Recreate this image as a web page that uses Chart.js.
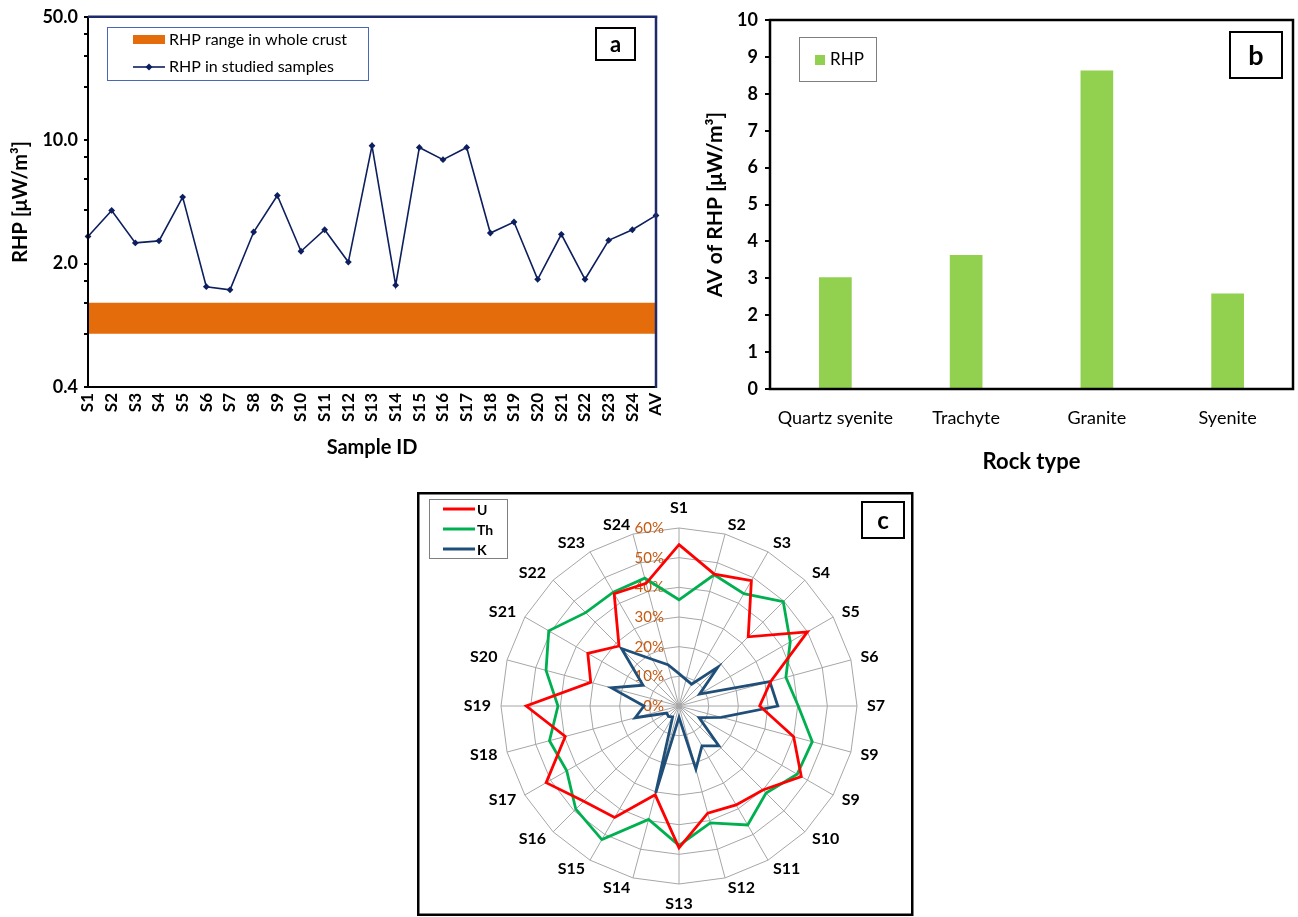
<!DOCTYPE html>
<html>
<head>
<meta charset="utf-8">
<title>Radiogenic heat production</title>
<script src="https://cdn.jsdelivr.net/npm/chart.js@4.4.1/dist/chart.umd.min.js"></script>
<style>
  html, body { margin: 0; padding: 0; background: #fff; }
  body { width: 1298px; height: 917px; position: relative; overflow: hidden; }
  canvas { position: absolute; display: block; }
  #chartA { left: 0; top: 0; }
  #chartB { left: 690px; top: 0; }
  #chartC { left: 417px; top: 492px; }
</style>
</head>
<body>
<canvas id="chartA" width="690" height="460"></canvas>
<canvas id="chartB" width="608" height="480"></canvas>
<canvas id="chartC" width="497" height="425"></canvas>
<script>
// ---------- data: (a) RHP per sample, log scale ----------
const sampleIds = ['S1','S2','S3','S4','S5','S6','S7','S8','S9','S10','S11','S12','S13',
                   'S14','S15','S16','S17','S18','S19','S20','S21','S22','S23','S24','AV'];
const rhpStudied = [2.85, 4.0, 2.62, 2.69, 4.76, 1.48, 1.42, 3.02, 4.86, 2.35, 3.11, 2.04, 9.3,
                    1.51, 9.1, 7.76, 9.1, 2.98, 3.44, 1.63, 2.93, 1.63, 2.71, 3.11, 3.75];
const crustRange = [0.8, 1.2];
const logTicksA = [0.4, 0.8, 1.2, 1.6, 2, 4, 6, 8, 10, 20, 30, 40, 50];
const labelledTicksA = [0.4, 2, 10, 50];

// ---------- data: (b) average RHP by rock type ----------
const rockTypes = ['Quartz syenite', 'Trachyte', 'Granite', 'Syenite'];
const rhpByRock = [3.03, 3.63, 8.63, 2.59];

// ---------- data: (c) U / Th / K contribution (%) ----------
const spokeLabels = ['S1','S2','S3','S4','S5','S6','S7','S9','S9','S10','S11','S12',
                     'S13','S14','S15','S16','S17','S18','S19','S20','S21','S22','S23','S24'];
const uShare  = [54.4, 46.0, 48.8, 33.0, 50.0, 32.0, 27.2, 40.0, 47.6, 40.0, 38.5, 37.4,
                 47.8, 31.0, 43.4, 45.4, 51.7, 39.7, 51.5, 30.8, 35.5, 28.6, 43.7, 42.8];
const thShare = [35.8, 45.8, 43.7, 49.7, 43.3, 37.3, 40.2, 46.5, 46.0, 41.5, 46.3, 40.8,
                 47.0, 39.6, 52.0, 49.2, 43.7, 45.2, 40.8, 46.4, 50.7, 44.5, 44.3, 44.6];
const kShare  = [10.9, 9.2, 8.5, 18.5, 8.0, 31.7, 33.3, 14.7, 7.8, 19.0, 15.5, 22.0,
                 3.8, 30.4, 4.3, 5.0, 4.8, 15.3, 11.8, 23.6, 14.0, 27.4, 18.2, 14.4];
const radarTicks = [0, 10, 20, 30, 40, 50, 60];

// ---------- shared styling ----------
const FONT = "Lato, 'Open Sans', sans-serif";
const NAVY = '#0d1f5e';
const FRAME_NAVY = '#1d2b6c';
const ORANGE = '#e46c0a';
const GREEN_BAR = '#92d050';
Chart.defaults.font.family = FONT;
Chart.defaults.color = '#000';
Chart.defaults.animation = false;
Chart.defaults.plugins.legend.display = false;
Chart.defaults.plugins.tooltip.enabled = false;

function boxedLetter(ctx, x, y, w, h, letter, size) {
  ctx.save();
  ctx.lineWidth = 2;
  ctx.strokeStyle = '#000';
  ctx.strokeRect(x, y, w, h);
  ctx.fillStyle = '#000';
  ctx.font = `bold ${size}px ${FONT}`;
  ctx.textAlign = 'center';
  ctx.textBaseline = 'middle';
  ctx.fillText(letter, x + w / 2, y + h / 2 + 1);
  ctx.restore();
}

function line(ctx, x1, y1, x2, y2, color, width) {
  ctx.beginPath();
  ctx.moveTo(x1, y1);
  ctx.lineTo(x2, y2);
  ctx.strokeStyle = color;
  ctx.lineWidth = width;
  ctx.stroke();
}

// ---------- (a) ----------
const panelAExtras = {
  id: 'panelAExtras',
  afterDraw(chart) {
    const { ctx, chartArea: a } = chart;
    ctx.save();
    // frame: black axes, navy top and right edges
    line(ctx, a.left, a.top, a.left, a.bottom + 1, '#000', 2);
    line(ctx, a.left - 1, a.bottom, a.right, a.bottom, '#000', 2);
    line(ctx, a.left, a.top, a.right + 1.25, a.top, FRAME_NAVY, 2.5);
    line(ctx, a.right, a.top, a.right, a.bottom + 1, FRAME_NAVY, 2.5);

    // legend
    ctx.lineWidth = 1;
    ctx.strokeStyle = '#4a67b5';
    ctx.strokeRect(107.5, 27.5, 261, 53);
    ctx.fillStyle = ORANGE;
    ctx.fillRect(133, 35, 32, 9);
    line(ctx, 133, 67, 165, 67, NAVY, 1.6);
    ctx.fillStyle = NAVY;
    ctx.beginPath();
    ctx.moveTo(149, 63.5); ctx.lineTo(152.5, 67); ctx.lineTo(149, 70.5); ctx.lineTo(145.5, 67);
    ctx.closePath(); ctx.fill();
    ctx.fillStyle = '#000';
    ctx.font = `16px ${FONT}`;
    ctx.textAlign = 'left';
    ctx.textBaseline = 'middle';
    ctx.fillText('RHP range in whole crust', 169, 40);
    ctx.fillText('RHP in studied samples', 169, 67);
    ctx.restore();
    boxedLetter(ctx, 596, 28, 39, 32, 'a', 22);
  }
};

new Chart(document.getElementById('chartA'), {
  type: 'line',
  data: {
    labels: sampleIds,
    datasets: [
      { label: 'RHP in studied samples', data: rhpStudied, borderColor: NAVY, backgroundColor: NAVY,
        borderWidth: 1.6, pointStyle: 'rectRot', pointRadius: 3.4, pointBorderWidth: 0,
        tension: 0, fill: false },
      { label: 'RHP range in whole crust', data: sampleIds.map(() => crustRange[1]),
        borderColor: 'rgba(0,0,0,0)', backgroundColor: ORANGE, borderWidth: 0, pointRadius: 0, fill: '+1' },
      { label: 'crust lower bound', data: sampleIds.map(() => crustRange[0]),
        borderColor: 'rgba(0,0,0,0)', borderWidth: 0, pointRadius: 0, fill: false }
    ]
  },
  options: {
    responsive: false,
    layout: { padding: { left: 0, top: 16, right: 34, bottom: 0 } },
    scales: {
      x: {
        type: 'category', offset: false,
        grid: { display: false, drawTicks: false }, border: { display: false },
        ticks: { autoSkip: false, minRotation: 90, maxRotation: 90, padding: 6,
                 font: { size: 17, weight: 'bold' } },
        title: { display: true, text: 'Sample ID', font: { size: 20, weight: 'bold' },
                 padding: { top: 0, bottom: 0 } },
        afterFit(s) { s.height = 73; }
      },
      y: {
        type: 'logarithmic', min: 0.4, max: 50,
        grid: { drawOnChartArea: false, drawTicks: true, tickLength: 4, color: '#000', lineWidth: 2 },
        border: { display: false },
        afterBuildTicks(s) { s.ticks = logTicksA.map(v => ({ value: v })); },
        ticks: { autoSkip: false, padding: 6, font: { size: 18, weight: 'bold' },
                 callback: v => labelledTicksA.includes(v) ? v.toFixed(1) : '' },
        title: { display: true, text: 'RHP [μW/m³]', font: { size: 20, weight: 'bold' },
                 padding: { top: 9, bottom: 0 } },
        afterFit(s) { s.width = 88; }
      }
    }
  },
  plugins: [panelAExtras]
});

// ---------- (b) ----------
const panelBExtras = {
  id: 'panelBExtras',
  afterDraw(chart) {
    const { ctx, chartArea: a } = chart;
    ctx.save();
    ctx.lineWidth = 2.5;
    ctx.strokeStyle = '#000';
    ctx.strokeRect(a.left, a.top, a.right - a.left, a.bottom - a.top);
    // legend
    ctx.lineWidth = 1;
    ctx.strokeStyle = '#7f7f7f';
    ctx.strokeRect(109.5, 37.5, 77, 44);
    ctx.fillStyle = GREEN_BAR;
    ctx.fillRect(125, 55, 10, 10);
    ctx.fillStyle = '#000';
    ctx.font = `17px ${FONT}`;
    ctx.textAlign = 'left';
    ctx.textBaseline = 'middle';
    ctx.fillText('RHP', 140, 60);
    ctx.restore();
    boxedLetter(ctx, 540, 32, 52, 46, 'b', 27);
  }
};

new Chart(document.getElementById('chartB'), {
  type: 'bar',
  data: {
    labels: rockTypes,
    datasets: [{ label: 'RHP', data: rhpByRock, backgroundColor: GREEN_BAR,
                 barPercentage: 0.5, categoryPercentage: 0.5 }]
  },
  options: {
    responsive: false,
    layout: { padding: { left: 0, top: 20, right: 5, bottom: 0 } },
    scales: {
      x: {
        grid: { display: false, drawTicks: false }, border: { display: false },
        ticks: { padding: 18, font: { size: 18 } },
        title: { display: true, text: 'Rock type', font: { size: 22, weight: 'bold' },
                 padding: { top: 0, bottom: 5 } },
        afterFit(s) { s.height = 91; }
      },
      y: {
        min: 0, max: 10,
        grid: { drawOnChartArea: false, drawTicks: true, tickLength: 5, color: '#000', lineWidth: 2 },
        border: { display: false },
        ticks: { stepSize: 1, padding: 7, font: { size: 18, weight: 'bold' } },
        title: { display: true, text: 'AV of RHP [μW/m³]', font: { size: 21, weight: 'bold' },
                 padding: { top: 13, bottom: 0 } },
        afterFit(s) { s.width = 80; }
      }
    }
  },
  plugins: [panelBExtras]
});

// ---------- (c) ----------
const radarSeries = [
  { name: 'U', data: uShare, color: '#ff0000' },
  { name: 'Th', data: thShare, color: '#00b050' },
  { name: 'K', data: kShare, color: '#1f4e79' }
];

const panelCExtras = {
  id: 'panelCExtras',
  beforeDatasetsDraw(chart) {
    const { ctx } = chart;
    const r = chart.scales.r;
    ctx.save();
    ctx.fillStyle = '#c55a11';
    ctx.font = `15px ${FONT}`;
    ctx.textAlign = 'right';
    ctx.textBaseline = 'middle';
    radarTicks.forEach(v => {
      ctx.fillText(v + '%', r.xCenter - 15, r.yCenter - r.getDistanceFromCenterForValue(v));
    });
    ctx.restore();
  },
  afterDraw(chart) {
    const { ctx, width, height } = chart;
    const r = chart.scales.r;
    ctx.save();
    // spoke labels
    ctx.fillStyle = '#000';
    ctx.font = `bold 16px ${FONT}`;
    ctx.textBaseline = 'middle';
    const n = spokeLabels.length;
    spokeLabels.forEach((lab, i) => {
      const deg = i * 360 / n;
      let dist = r.drawingArea + 10;
      let align;
      if (deg === 0 || deg === 180) { align = 'center'; dist = r.drawingArea + 20; }
      else align = deg < 180 ? 'left' : 'right';
      const p = r.getPointPosition(i, dist);
      ctx.textAlign = align;
      ctx.fillText(lab, p.x, p.y);
    });
    // outer frame
    ctx.lineWidth = 2.5;
    ctx.strokeStyle = '#000';
    ctx.strokeRect(1.25, 1.25, width - 3, height - 3.5);
    // legend
    ctx.lineWidth = 1;
    ctx.strokeStyle = '#7f7f7f';
    ctx.strokeRect(12.5, 7.5, 78, 59);
    ctx.font = `bold 14px ${FONT}`;
    ctx.textAlign = 'left';
    radarSeries.forEach((s, k) => {
      const y = 17 + k * 20;
      line(ctx, 26, y, 58, y, s.color, 3);
      ctx.fillStyle = '#000';
      ctx.fillText(s.name, 60, y + 1);
    });
    ctx.restore();
    boxedLetter(ctx, 445, 10, 42, 36, 'c', 24);
  }
};

new Chart(document.getElementById('chartC'), {
  type: 'radar',
  data: {
    labels: spokeLabels,
    datasets: radarSeries.map(s => ({
      label: s.name, data: s.data, borderColor: s.color, backgroundColor: 'rgba(0,0,0,0)',
      borderWidth: 2.8, pointRadius: 0, fill: false, tension: 0
    }))
  },
  options: {
    responsive: false,
    layout: { padding: { left: 84, top: 36, right: 57, bottom: 33 } },
    scales: {
      r: {
        min: 0, max: 60,
        ticks: { stepSize: 10, display: false },
        pointLabels: { display: false },
        grid: { color: '#a6a6a6', lineWidth: 1 },
        angleLines: { color: '#a6a6a6', lineWidth: 1 }
      }
    }
  },
  plugins: [panelCExtras]
});
</script>
</body>
</html>
